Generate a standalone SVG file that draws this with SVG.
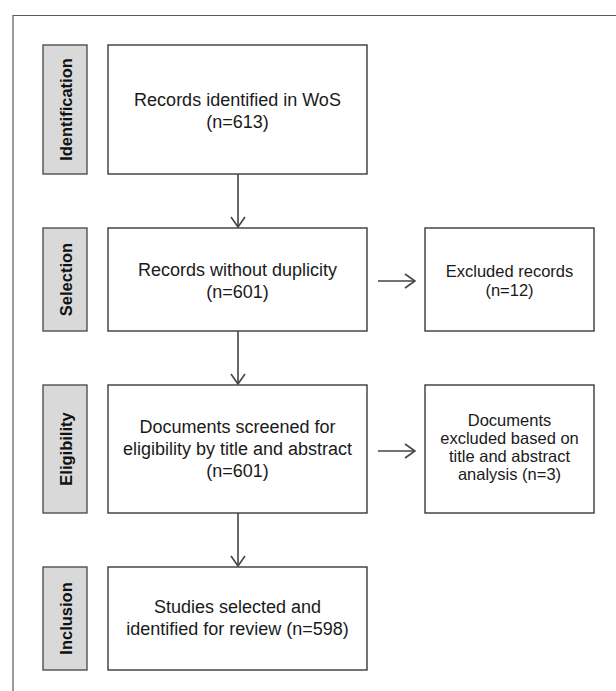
<svg xmlns="http://www.w3.org/2000/svg" width="616" height="691" viewBox="0 0 616 691">
  <style>
    .frame { fill: none; stroke: #5a5a5a; stroke-width: 1.2; }
    .stage rect { fill: #d9d9d9; stroke: #444; stroke-width: 1.3; }
    .stage text { font-family: "Liberation Sans", Arial, sans-serif; font-weight: bold; font-size: 16.5px; fill: #111; text-anchor: middle; }
    .box rect { fill: #fff; stroke: #3a3a3a; stroke-width: 1.4; }
    .box text { font-family: "Liberation Sans", Arial, sans-serif; font-size: 18px; fill: #1a1a1a; text-anchor: middle; }
    .side text { font-size: 16.5px; }
    .conn line { stroke: #444; stroke-width: 1.6; fill: none; }
  </style>
  <defs>
    <marker id="vee" viewBox="0 0 12 16" refX="11" refY="8" markerWidth="12" markerHeight="16" markerUnits="userSpaceOnUse" orient="auto">
      <path d="M1,1 L11,8 L1,15" fill="none" stroke="#444" stroke-width="1.6"/>
    </marker>
  </defs>

  <rect width="616" height="691" fill="#fff"/>
  <!-- outer frame: top and left edges only -->
  <path class="frame" d="M13,691 L13,15.5 L616,15.5"/>

  <!-- stage labels -->
  <g id="stage-identification" class="stage">
    <rect x="43" y="45" width="44" height="129"/>
    <text transform="translate(71.5,109.5) rotate(-90)">Identification</text>
  </g>
  <g id="stage-selection" class="stage">
    <rect x="43" y="228" width="44" height="103"/>
    <text transform="translate(71.5,279.5) rotate(-90)">Selection</text>
  </g>
  <g id="stage-eligibility" class="stage">
    <rect x="43" y="385" width="44" height="128"/>
    <text transform="translate(71.5,449) rotate(-90)">Eligibility</text>
  </g>
  <g id="stage-inclusion" class="stage">
    <rect x="43" y="567" width="44" height="103"/>
    <text transform="translate(71.5,618.5) rotate(-90)">Inclusion</text>
  </g>

  <!-- main flow boxes -->
  <g id="identified" class="box">
    <rect x="108" y="45" width="259" height="129"/>
    <text x="237.5" y="106">Records identified in WoS</text>
    <text x="237.5" y="128">(n=613)</text>
  </g>
  <g id="deduplicated" class="box">
    <rect x="108" y="228" width="259" height="103"/>
    <text x="237.5" y="276">Records without duplicity</text>
    <text x="237.5" y="298">(n=601)</text>
  </g>
  <g id="screened" class="box">
    <rect x="108" y="385" width="259" height="128"/>
    <text x="237.5" y="433">Documents screened for</text>
    <text x="237.5" y="455">eligibility by title and abstract</text>
    <text x="237.5" y="477">(n=601)</text>
  </g>
  <g id="included" class="box">
    <rect x="108" y="567" width="259" height="103"/>
    <text x="237.5" y="613">Studies selected and</text>
    <text x="237.5" y="635">identified for review (n=598)</text>
  </g>

  <!-- exclusion boxes -->
  <g id="excluded-records" class="box side">
    <rect x="425" y="228" width="169" height="103"/>
    <text x="509.5" y="277">Excluded records</text>
    <text x="509.5" y="296">(n=12)</text>
  </g>
  <g id="excluded-documents" class="box side">
    <rect x="425" y="385" width="169" height="128"/>
    <text x="509.5" y="426">Documents</text>
    <text x="509.5" y="444">excluded based on</text>
    <text x="509.5" y="462">title and abstract</text>
    <text x="509.5" y="480">analysis (n=3)</text>
  </g>

  <!-- connectors -->
  <g id="connectors" class="conn">
    <line x1="238" y1="174" x2="238" y2="227" marker-end="url(#vee)"/>
    <line x1="238" y1="331" x2="238" y2="384" marker-end="url(#vee)"/>
    <line x1="238" y1="513" x2="238" y2="566" marker-end="url(#vee)"/>
    <line x1="378" y1="281" x2="415" y2="281" marker-end="url(#vee)"/>
    <line x1="378" y1="451" x2="415" y2="451" marker-end="url(#vee)"/>
  </g>
</svg>
